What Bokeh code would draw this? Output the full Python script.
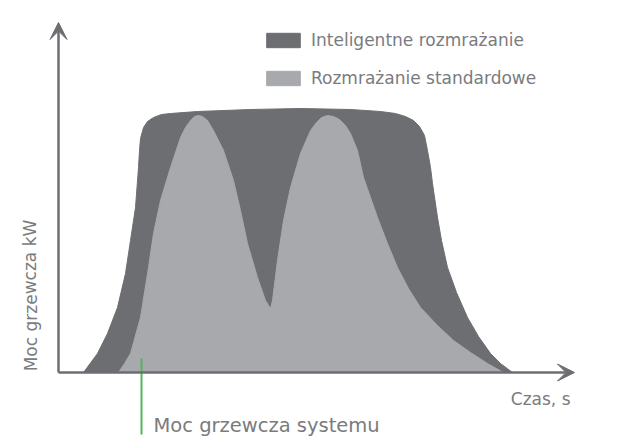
from bokeh.plotting import figure
from bokeh.models import Range1d, Arrow, VeeHead, Label, Legend, LegendItem
from bokeh.embed import file_html
from bokeh.resources import INLINE

# values (arbitrary units, time vs heating power)
smart_t = [25, 39, 49, 59, 67, 72, 77, 80, 81, 82, 85, 89, 95, 103, 112, 139, 192, 242, 292,
           322, 337, 347, 355, 361, 366, 369, 372, 374, 379, 383, 389, 398, 409, 420, 432, 442, 454]
smart_kw = [0, 19, 39, 65, 99, 132, 165, 205, 222, 234, 245, 251, 255, 258, 259, 261, 263, 264, 263,
            261, 259, 256, 252, 246, 237, 222, 205, 189, 155, 132, 105, 80, 55, 36, 19, 9, 0]

std_t = [60, 66, 72, 82, 90, 95, 102, 112, 122, 127, 132, 136, 140, 144, 149, 155, 165, 175, 182,
         189, 199, 207, 212, 214, 219, 225, 232, 242, 252, 258, 263, 269, 275, 281, 287, 292, 299,
         305, 312, 319, 329, 339, 350, 362, 379, 395, 412, 429, 445]
std_kw = [0, 9, 19, 55, 105, 139, 172, 205, 235, 245, 252, 256, 257, 256, 252, 242, 222, 192, 162,
          129, 95, 72, 64, 72, 112, 152, 185, 219, 242, 250, 255, 257, 256, 253, 247, 239, 222,
          195, 175, 155, 129, 105, 84, 65, 47, 32, 20, 9, 0]

system_t = 83          # "Moc grzewcza systemu" marker
t_max, kw_max = 516, 350

dark = "#6d6e71"
light = "#a7a9ac"
txt = "#7a7b7e"
font = "DejaVu Sans"

p = figure(width=610, height=440, output_backend="svg", toolbar_location=None,
           x_range=Range1d(-58, 552), y_range=Range1d(-68, 372), min_border=0)
p.xaxis.visible = False
p.yaxis.visible = False
p.grid.visible = False
p.outline_line_color = None

r_smart = p.patch(smart_t, smart_kw, fill_color=dark, line_color=dark, line_width=1)
r_std = p.patch(std_t, std_kw, fill_color=light, line_color=light, line_width=1)

# axes with arrow heads
for xe, ye in [(t_max, 0), (0, kw_max)]:
    p.add_layout(Arrow(x_start=0, y_start=0, x_end=xe, y_end=ye,
                       line_color=dark, line_width=2.5,
                       end=VeeHead(size=17, fill_color=dark, line_color=dark, line_width=1)))

p.segment(x0=[system_t], y0=[14], x1=[system_t], y1=[-62], line_color="#55b35a", line_width=2)

p.add_layout(Label(x=512, y=-26, text="Czas, s", text_align="right", text_baseline="middle",
                   text_font=font, text_font_size="17px", text_color=txt))
p.add_layout(Label(x=system_t + 12, y=-53, text="Moc grzewcza systemu", text_align="left",
                   text_baseline="middle", text_font=font, text_font_size="19.5px", text_color=txt))
p.add_layout(Label(x=-28, y=77, text="Moc grzewcza kW", angle=1.5708, text_align="center",
                   text_baseline="middle", text_font=font, text_font_size="17px", text_color=txt))

legend = Legend(items=[LegendItem(label="Inteligentne rozmrażanie", renderers=[r_smart]),
                       LegendItem(label="Rozmrażanie standardowe", renderers=[r_std])],
                location=(262, 352), padding=0, margin=0, spacing=18,
                glyph_width=42, glyph_height=18, label_height=20, label_standoff=7,
                label_text_font=font, label_text_font_size="17px", label_text_color=txt,
                border_line_color=None, background_fill_alpha=0)
p.add_layout(legend)

open("out.html", "w").write(file_html(p, INLINE))
